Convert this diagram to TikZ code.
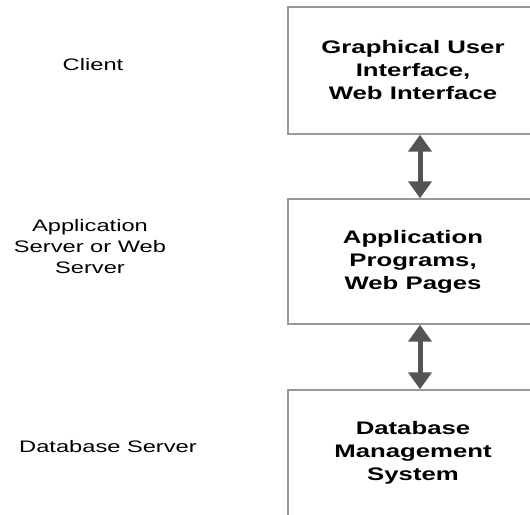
\documentclass[tikz,border=0pt]{standalone}
\usepackage{fontspec}
\setmainfont{Liberation Sans}[FakeStretch=1.42]
\usetikzlibrary{arrows.meta}

\begin{document}
\begin{tikzpicture}[x=0.75pt,y=-0.75pt,
    tier/.style={draw=black!40,line width=1.1pt,minimum width=187.5pt,
      inner sep=0pt,align=center,
      font=\fontsize{13.6}{17.25}\selectfont\bfseries},
    role/.style={align=center,font=\fontsize{12.5}{15.75}\selectfont},
    link/.style={draw=black!67,line width=3.75pt,
      {Triangle[width=17.25pt,length=12.75pt]}-{Triangle[width=17.25pt,length=12.75pt]}}]
  \useasboundingbox (0,0) rectangle (530,514);
  \clip (0,0) rectangle (530,514);
  \fill[white] (0,0) rectangle (530,514);

  % roles on the left
  \node[role] (client) at (93,65) {Client};
  \node[role] (appsrv) at (90,247) {Application\\Server or Web\\Server};
  \node[role] (dbsrv) at (108,447) {Database Server};

  % tiers on the right
  \node[tier,minimum height=95.25pt] (gui) at (413,70.5)
    {Graphical User\\Interface,\\Web Interface};
  \node[tier,minimum height=93.75pt] (prog) at (413,261.5)
    {Application\\Programs,\\Web Pages};
  \node[tier,minimum height=94.5pt] (dbms) at (413,453)
    {Database\\Management\\System};

  % two-way links between the tiers
  \foreach \a/\b in {gui/prog, prog/dbms} {
    \draw[link] ([xshift=5.25pt]\a.south) -- ([xshift=5.25pt]\b.north);
  }
\end{tikzpicture}
\end{document}
